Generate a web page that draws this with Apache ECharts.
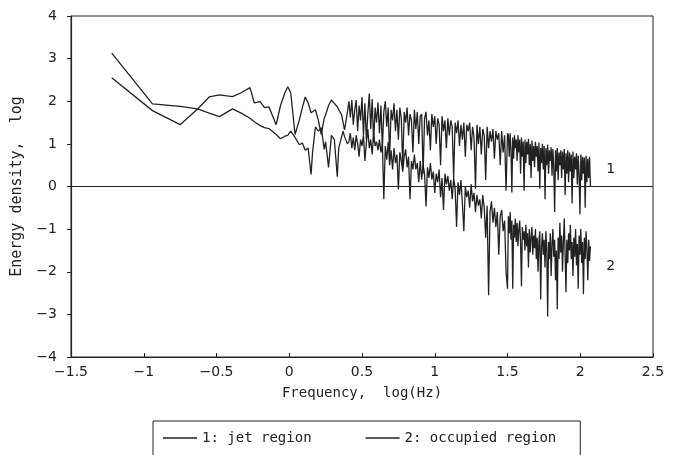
<!DOCTYPE html>
<html>
<head>
<meta charset="utf-8">
<title>Energy density spectra</title>
<script src="https://cdn.jsdelivr.net/npm/echarts@6/dist/echarts.min.js"></script>
<style>
  html, body { margin: 0; padding: 0; background: #fff; }
  #chart { width: 678px; height: 455px; }
</style>
</head>
<body>
<div id="chart"></div>
<script>
// frequency, log(Hz) - shared by both spectra
const freq = [
  -1.22, -0.94, -0.75, -0.63, -0.55, -0.48, -0.39, -0.33, -0.27, -0.24,
  -0.2, -0.17, -0.14, -0.09, -0.06, -0.03, -0.01, 0.01, 0.04, 0.07,
  0.09, 0.11, 0.13, 0.15, 0.16, 0.18, 0.2, 0.22, 0.24, 0.25,
  0.27, 0.29, 0.31, 0.33, 0.34, 0.36, 0.37, 0.38, 0.4,
  0.41, 0.42, 0.43, 0.44, 0.45, 0.46, 0.47, 0.48, 0.49, 0.5,
  0.51, 0.52, 0.53, 0.54, 0.55, 0.56, 0.57, 0.58, 0.59, 0.6,
  0.61, 0.62, 0.63, 0.64, 0.65, 0.66, 0.67, 0.68, 0.69, 0.7,
  0.71, 0.72, 0.73, 0.74, 0.75, 0.76, 0.77, 0.78, 0.79, 0.8,
  0.81, 0.82, 0.83, 0.84, 0.85, 0.86, 0.87, 0.88, 0.89, 0.9,
  0.91, 0.92, 0.93, 0.94, 0.95, 0.96, 0.97, 0.98, 0.99, 1.0,
  1.01, 1.02, 1.03, 1.04, 1.05, 1.06, 1.07, 1.08, 1.09, 1.1,
  1.11, 1.12, 1.13, 1.14, 1.15, 1.16, 1.17, 1.18, 1.19, 1.2,
  1.21, 1.22, 1.23, 1.24, 1.25, 1.26, 1.27, 1.28, 1.29, 1.3,
  1.31, 1.32, 1.33, 1.34, 1.35, 1.36, 1.37, 1.38, 1.39, 1.4,
  1.41, 1.42, 1.43, 1.44, 1.45, 1.46, 1.47, 1.48, 1.49, 1.5,
  1.506, 1.512, 1.518, 1.524, 1.53, 1.536, 1.542, 1.548, 1.554, 1.56,
  1.566, 1.572, 1.578, 1.584, 1.59, 1.596, 1.602, 1.608, 1.614, 1.62,
  1.626, 1.632, 1.638, 1.644, 1.65, 1.656, 1.662, 1.668, 1.674, 1.68,
  1.686, 1.692, 1.698, 1.704, 1.71, 1.716, 1.722, 1.728, 1.734, 1.74,
  1.746, 1.752, 1.758, 1.764, 1.77, 1.776, 1.782, 1.788, 1.794, 1.8,
  1.806, 1.812, 1.818, 1.824, 1.83, 1.836, 1.842, 1.848, 1.854, 1.86,
  1.866, 1.872, 1.878, 1.884, 1.89, 1.896, 1.902, 1.908, 1.914, 1.92,
  1.926, 1.932, 1.938, 1.944, 1.95, 1.956, 1.962, 1.968, 1.974, 1.98,
  1.986, 1.992, 1.998, 2.004, 2.01, 2.016, 2.022, 2.028, 2.034, 2.04,
  2.046, 2.052, 2.058, 2.064, 2.07
];

// curve 1: jet region
const jetEnergy = [
  2.55, 1.78, 1.45, 1.82, 2.1, 2.15, 2.11, 2.2, 2.32, 1.96,
  1.99, 1.85, 1.87, 1.45, 1.9, 2.2, 2.34, 2.2, 1.22, 1.57,
  1.85, 2.1, 1.96, 1.73, 1.75, 1.8, 1.55, 1.22, 1.6, 1.68,
  1.9, 2.03, 1.95, 1.87, 1.8, 1.68, 1.5, 1.33, 1.75,
  2.0, 1.62, 2.03, 1.45, 1.8, 2.03, 1.3, 1.9, 1.55, 2.1,
  1.2, 1.95, 1.1, 1.7, 2.18, 1.35, 2.05, 1.03, 1.85, 1.5,
  1.97, 1.25, 1.9, 0.9, 1.75, 2.0, 1.4, 1.85, 0.7, 1.8,
  1.55, 1.95, 1.3, 1.8, 1.1, 1.85, 1.6, 0.45, 1.75, 1.5,
  1.85, 1.2, 1.7, 1.55, 0.8, 1.8, 1.35, 1.75, 1.0, 1.65,
  1.7, 0.3, 1.6, 1.75, 1.2, 1.55, 0.85, 1.7, 1.4, 1.65,
  1.0, 1.6, 1.45, 0.5, 1.65, 1.3, 1.55, 0.9, 1.6, 1.2,
  1.55, 1.4, 0.2, 1.5, 1.25, 1.55, 0.95, 1.45, 1.1, 1.5,
  0.7, 1.45, 1.3, 1.5, 0.85, 1.4, 1.15, -0.05, 1.45, 1.0,
  1.4, 0.75, 1.35, 1.2, 0.15, 1.4, 0.9, 1.3, 1.05, 1.35,
  0.65, 1.3, 1.1, 1.25, 0.5, 1.3, 0.8, 1.2, -0.1, 1.25,
  1.2, 0.7, 1.25, 0.85, -0.14, 1.15, 0.65, 1.2, 0.9, 1.1,
  0.6, 1.2, 0.8, 1.1, 0.3, 1.15, 0.7, 1.05, -0.1, 1.1,
  0.55, 1.05, 0.75, 1.12, 0.5, 1.0, 0.2, 1.08, 0.6, 0.95,
  0.45, 1.05, 0.7, 0.95, 0.35, 1.03, -0.05, 0.9, 0.55, 1.0,
  0.4, 0.95, -0.3, 0.9, 0.5, 0.98, 0.3, 0.85, 0.6, 0.92,
  0.25, 0.88, 0.45, -0.6, 0.85, 0.35, 0.9, 0.15, 0.8, 0.5,
  0.85, 0.2, 0.82, 0.4, 0.88, -0.2, 0.78, 0.3, 0.85, 0.1,
  0.8, 0.35, 0.75, -0.4, 0.82, 0.2, 0.7, 0.4, 0.78, 0.05,
  0.72, 0.25, -0.65, 0.75, 0.15, 0.7, 0.3, 0.68, -0.5, 0.72,
  0.1, 0.65, 0.2, 0.7, 0.0
];

// curve 2: occupied region
const occupiedEnergy = [
  3.13, 1.94, 1.88, 1.82, 1.72, 1.64, 1.82, 1.72, 1.6, 1.52,
  1.43, 1.38, 1.36, 1.22, 1.12, 1.18, 1.2, 1.3, 1.15, 0.98,
  1.02, 0.85, 0.9, 0.28, 0.8, 1.4, 1.3, 1.38, 0.87, 1.05,
  0.45, 1.2, 1.1, 0.23, 0.9, 1.17, 1.3, 1.17, 1.0,
  1.05, 1.25, 0.9, 1.15, 0.85, 1.2, 1.0, 0.7, 1.1, 0.95,
  1.2, 0.6, 1.03, 1.35, 0.9, 1.1, 0.75, 1.25, 0.95, 1.05,
  0.85, 1.1, 0.8, 1.0, -0.3, 0.95, 0.63, 1.05, 0.5, 0.85,
  0.4, 0.9, 0.55, 0.75, -0.07, 0.8, 0.6, 0.35, 0.7, 0.87,
  0.45, 0.7, -0.3, 0.6, 0.4, 0.75, 0.4, 0.55, 0.1, 0.6,
  0.16, 0.5, 0.3, -0.47, 0.45, 0.2, 0.55, 0.16, 0.35, -0.15,
  0.3, 0.1, 0.4, -0.25, 0.2, -0.55, 0.3, 0.05, 0.25, -0.1,
  0.15, -0.3, 0.2, -0.05, -0.95, 0.1, -0.2, 0.15, -0.4, -1.05,
  0.0, -0.25, -0.1, -0.5, 0.05, -0.35, -0.15, -0.6, -0.2, -0.45,
  -0.3, -0.75, -0.2, -0.5, -1.2, -0.45, -2.55, -0.6, -0.35, -0.85,
  -0.5, -0.95, -0.6, -1.6, -0.7, -0.55, -1.05, -0.8, -2.0, -2.4,
  -0.7, -1.1, -0.6, -1.25, -0.8, -2.4, -0.9, -1.2, -0.75, -1.3,
  -0.85, -1.4, -1.0, -0.8, -1.35, -2.34, -0.95, -1.25, -1.05, -1.5,
  -0.9, -1.4, -1.1, -1.9, -1.0, -1.55, -1.2, -0.95, -1.6, -1.15,
  -1.45, -1.0, -1.7, -1.2, -2.0, -1.3, -1.05, -2.65, -1.4, -1.1,
  -1.6, -1.25, -1.9, -1.05, -1.5, -3.05, -1.3, -1.7, -1.1, -2.1,
  -1.35, -1.0, -1.65, -1.25, -2.2, -1.5, -2.88, -1.2, -1.7, -0.85,
  -1.55, -1.15, -2.0, -1.3, -0.75, -1.6, -2.48, -1.25, -1.8, -1.1,
  -1.5, -0.9, -1.7, -1.3, -2.1, -1.2, -1.65, -1.0, -1.85, -1.35,
  -2.4, -1.15, -1.6, -1.0, -1.8, -1.3, -2.53, -1.2, -1.7, -1.05,
  -1.5, -2.2, -1.25, -1.75, -1.4
];

const seriesNames = ['1: jet region', '2: occupied region'];
const curveTags = ['1', '2'];
const tagPositions = [[2.21, 0.4], [2.21, -1.87]];

const ink = '#222';
const font = 'DejaVu Sans';
const wideFont = 'DejaVu Sans Mono';

const chart = echarts.init(document.getElementById('chart'));

const pairs = (ys) => freq.map((f, i) => [f, ys[i]]);
const minusSign = (v) => String(v).replace('-', '\u2212');

const tagPoint = (i) => ({
  symbol: 'circle',
  symbolSize: 0,
  silent: true,
  label: { show: true, formatter: curveTags[i], color: ink, fontSize: 14, fontFamily: font },
  data: [{ coord: tagPositions[i] }]
});

const option = {
  animation: false,
  backgroundColor: '#fff',
  grid: {
    left: 71, right: 25, top: 16, bottom: 98,
    show: true, borderColor: ink, borderWidth: 1
  },
  legend: {
    left: 153, top: 421,
    padding: [10, 24, 14, 10],
    icon: 'rect',
    itemWidth: 34, itemHeight: 1.3, itemGap: 54,
    borderColor: ink, borderWidth: 1,
    textStyle: { color: ink, fontSize: 14, fontFamily: wideFont },
    data: seriesNames
  },
  xAxis: {
    type: 'value',
    min: -1.5, max: 2.5, interval: 0.5,
    name: 'Frequency,  log(Hz)',
    nameLocation: 'middle', nameGap: 29,
    nameTextStyle: { color: ink, fontSize: 14, fontFamily: wideFont },
    axisLine: { onZero: false, lineStyle: { color: ink, width: 1.2 } },
    axisTick: { inside: true, length: 4, lineStyle: { color: ink } },
    splitLine: { show: false },
    axisLabel: { color: ink, fontSize: 14, fontFamily: font, margin: 8, formatter: minusSign }
  },
  yAxis: {
    type: 'value',
    min: -4, max: 4, interval: 1,
    name: 'Energy density,  log',
    nameLocation: 'middle', nameGap: 46,
    nameTextStyle: { color: ink, fontSize: 15, fontFamily: wideFont },
    axisLine: { onZero: false, lineStyle: { color: ink, width: 1.2 } },
    axisTick: { inside: false, length: 4, lineStyle: { color: ink } },
    splitLine: { show: false },
    axisLabel: { color: ink, fontSize: 14, fontFamily: font, margin: 14, formatter: minusSign }
  },
  series: [
    {
      name: seriesNames[0],
      type: 'line',
      symbol: 'none',
      data: pairs(jetEnergy),
      lineStyle: { color: ink, width: 1.3 },
      itemStyle: { color: ink },
      markLine: {
        silent: true,
        symbol: ['none', 'none'],
        label: { show: false },
        lineStyle: { color: ink, width: 1.2, type: 'solid' },
        data: [{ yAxis: 0 }]
      },
      markPoint: tagPoint(0)
    },
    {
      name: seriesNames[1],
      type: 'line',
      symbol: 'none',
      data: pairs(occupiedEnergy),
      lineStyle: { color: ink, width: 1.3 },
      itemStyle: { color: ink },
      markPoint: tagPoint(1)
    }
  ]
};

chart.setOption(option);
</script>
</body>
</html>
